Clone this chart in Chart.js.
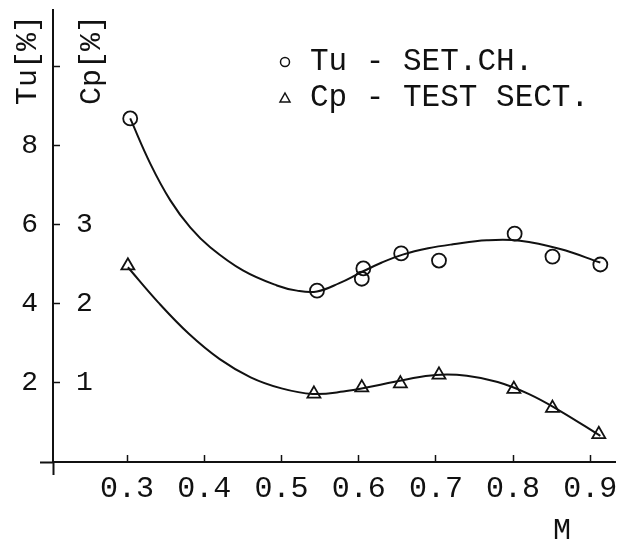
<!DOCTYPE html>
<html>
<head>
<meta charset="utf-8">
<title>Tu / Cp vs M</title>
<script src="https://cdn.jsdelivr.net/npm/chart.js@4.4.0/dist/chart.umd.min.js"></script>
<style>
  html, body { margin: 0; padding: 0; background: #fff; }
  canvas { display: block; }
</style>
</head>
<body>
<canvas id="chart" width="630" height="544"></canvas>
<script>
// measured points: Tu in the settling chamber (circles)
var machTu = [0.304, 0.546, 0.604, 0.606, 0.655, 0.704, 0.802, 0.851, 0.913];
var tuValues = [8.68, 4.33, 4.63, 4.89, 5.27, 5.09, 5.77, 5.19, 4.99];

// measured points: Cp in the test section (triangles)
var machCp = [0.301, 0.542, 0.604, 0.654, 0.704, 0.801, 0.851, 0.911];
var cpValues = [2.48, 0.86, 0.94, 0.99, 1.10, 0.92, 0.68, 0.35];

// hand-drawn fit curves
var tuFitMach = [0.304, 0.330, 0.356, 0.382, 0.408, 0.450, 0.494, 0.520, 0.546, 0.575, 0.602, 0.630, 0.657, 0.690, 0.722, 0.766, 0.809, 0.861, 0.913];
var tuFitValues = [8.68, 7.54, 6.61, 5.92, 5.42, 4.84, 4.46, 4.33, 4.31, 4.52, 4.78, 5.04, 5.24, 5.40, 5.50, 5.60, 5.59, 5.38, 5.04];
var cpFitMach = [0.301, 0.340, 0.380, 0.420, 0.460, 0.500, 0.540, 0.580, 0.620, 0.660, 0.700, 0.740, 0.780, 0.820, 0.860, 0.913];
var cpFitValues = [2.46, 2.02, 1.62, 1.30, 1.07, 0.93, 0.86, 0.89, 0.96, 1.04, 1.10, 1.09, 1.01, 0.86, 0.65, 0.33];

// axis ticks
var machTicks = [0.3, 0.4, 0.5, 0.6, 0.7, 0.8, 0.9];
var tuTicks = [2, 4, 6, 8, 10];
var cpTicks = [0, 1, 2, 3];

var ink = '#111';
var mono = '"Liberation Mono", "DejaVu Sans Mono", monospace';
var machMin = 0.204, machMax = 0.932;
var tuMax = 11.42;

function pts(xs, ys) {
  return xs.map(function (x, i) { return { x: x, y: ys[i] }; });
}

function noPad(s) {
  s.paddingTop = 0; s.paddingBottom = 0; s.paddingLeft = 0; s.paddingRight = 0;
}

// legend inside the plot, plus the axis captions
var captions = {
  id: 'captions',
  afterDraw: function (chart) {
    var ctx = chart.ctx, a = chart.chartArea;
    ctx.save();
    ctx.fillStyle = ink;
    ctx.strokeStyle = ink;
    ctx.textBaseline = 'middle';

    ctx.font = '30px ' + mono;
    ctx.textAlign = 'center';
    [['Tu[%]', a.left - 25], ['Cp[%]', a.left + 39]].forEach(function (t) {
      ctx.save();
      ctx.translate(t[1], a.top + 50);
      ctx.rotate(-Math.PI / 2);
      ctx.fillText(t[0], 0, 0);
      ctx.restore();
    });
    ctx.fillText('M', a.right - 53, a.bottom + 69);

    ctx.font = '31px ' + mono;
    ctx.textAlign = 'left';
    ctx.lineWidth = 1.5;
    var lx = a.left + 232, ly = a.top + 52;
    chart.data.datasets.slice(0, 2).forEach(function (ds, i) {
      var y = ly + i * 36;
      ctx.beginPath();
      if (ds.pointStyle === 'circle') {
        ctx.arc(lx, y, 4.5, 0, Math.PI * 2);
      } else {
        ctx.moveTo(lx, y - 5);
        ctx.lineTo(lx + 5, y + 4);
        ctx.lineTo(lx - 5, y + 4);
        ctx.closePath();
      }
      ctx.stroke();
      ctx.fillText(ds.label, lx + 25, y);
    });
    ctx.restore();
  }
};

var ctx = document.getElementById('chart').getContext('2d');
var chart = new Chart(ctx, {
  type: 'scatter',
  data: {
    datasets: [{
      label: 'Tu - SET.CH.',
      data: pts(machTu, tuValues),
      yAxisID: 'y',
      pointStyle: 'circle',
      pointRadius: 7,
      pointBorderWidth: 1.8,
      borderColor: ink,
      backgroundColor: 'rgba(0,0,0,0)'
    }, {
      label: 'Cp - TEST SECT.',
      data: pts(machCp, cpValues),
      yAxisID: 'y2',
      pointStyle: 'triangle',
      pointRadius: 7.5,
      pointBorderWidth: 1.8,
      borderColor: ink,
      backgroundColor: 'rgba(0,0,0,0)'
    }, {
      label: 'Tu fit',
      data: pts(tuFitMach, tuFitValues),
      yAxisID: 'y',
      showLine: true,
      pointRadius: 0,
      borderWidth: 2,
      borderColor: ink,
      tension: 0.4
    }, {
      label: 'Cp fit',
      data: pts(cpFitMach, cpFitValues),
      yAxisID: 'y2',
      showLine: true,
      pointRadius: 0,
      borderWidth: 2,
      borderColor: ink,
      tension: 0.4
    }]
  },
  options: {
    responsive: false,
    animation: false,
    devicePixelRatio: 1,
    layout: { padding: { top: 10, right: 15, left: 0, bottom: 0 } },
    plugins: {
      legend: { display: false },
      tooltip: { enabled: false }
    },
    scales: {
      x: {
        type: 'linear',
        min: machMin,
        max: machMax,
        weight: 1,
        afterBuildTicks: function (s) { s.ticks = machTicks.map(function (v) { return { value: v }; }); },
        afterFit: function (s) { s.height = 82; noPad(s); },
        ticks: {
          color: ink,
          padding: 16,
          maxRotation: 0,
          font: { family: mono, size: 30 },
          callback: function (v) { return v.toFixed(1); }
        },
        grid: { drawOnChartArea: false, tickLength: -7, tickColor: ink, tickWidth: 1.5 },
        border: { color: ink, width: 2 }
      },
      // short stub of the y axis below the M axis
      x2: {
        type: 'linear',
        position: 'bottom',
        min: machMin,
        max: machMax,
        weight: 0,
        afterBuildTicks: function (s) { s.ticks = [{ value: machMin }]; },
        afterFit: function (s) { s.height = 0; noPad(s); },
        ticks: { display: false },
        grid: { drawOnChartArea: false, tickLength: 13, tickColor: ink, tickWidth: 2 },
        border: { display: false }
      },
      y: {
        type: 'linear',
        position: 'left',
        min: 0,
        max: tuMax,
        weight: 1,
        afterBuildTicks: function (s) { s.ticks = tuTicks.map(function (v) { return { value: v }; }); },
        afterFit: function (s) { s.width = 53; noPad(s); },
        ticks: {
          color: ink,
          padding: 22,
          font: { family: mono, size: 28 },
          callback: function (v) { return v === 10 ? '' : String(v); }
        },
        grid: { drawOnChartArea: false, tickLength: -7, tickColor: ink, tickWidth: 1.5 },
        border: { color: ink, width: 2 }
      },
      // Cp scale shares the axis line, labels sit inside the plot
      y2: {
        type: 'linear',
        position: 'left',
        min: 0,
        max: tuMax / 2,
        weight: 0,
        afterBuildTicks: function (s) { s.ticks = cpTicks.map(function (v) { return { value: v }; }); },
        afterFit: function (s) { s.width = 0; noPad(s); },
        ticks: {
          color: ink,
          mirror: true,
          padding: 23,
          font: { family: mono, size: 28 },
          callback: function (v) { return v === 0 ? '' : String(v); }
        },
        grid: {
          drawOnChartArea: false,
          tickLength: 13,
          tickWidth: 2,
          tickColor: function (c) { return c.tick && c.tick.value === 0 ? ink : 'rgba(0,0,0,0)'; }
        },
        border: { display: false }
      }
    }
  },
  plugins: [captions]
});
</script>
</body>
</html>
